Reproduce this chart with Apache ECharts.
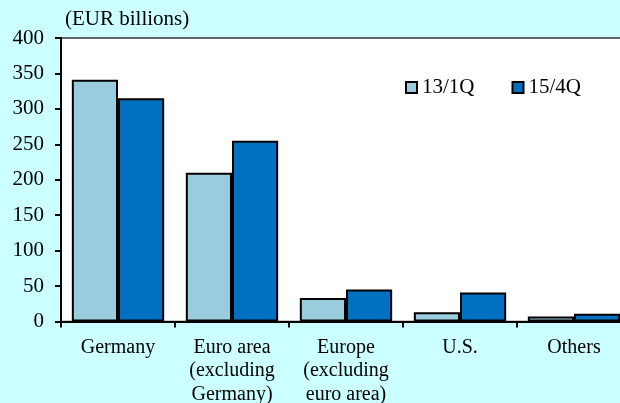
<!DOCTYPE html>
<html>
<head>
<meta charset="utf-8">
<script src="https://cdn.jsdelivr.net/npm/echarts@6/dist/echarts.min.js"></script>
<style>
html,body{margin:0;padding:0;background:#ccffff;}
#c{width:620px;height:403px;}
</style>
</head>
<body>
<div id="c"></div>
<script>
const categories = ['Germany', 'Euro area\n(excluding\nGermany)', 'Europe\n(excluding\neuro area)', 'U.S.', 'Others'];
const series1Name = '13/1Q';
const series2Name = '15/4Q';
const series1Values = [341, 210, 33, 13, 7];
const series2Values = [315, 255, 45, 41, 11];
const yTicks = { min: 0, max: 400, interval: 50 };
const unitLabel = '(EUR billions)';

const font = '"Liberation Serif", serif';
const chart = echarts.init(document.getElementById('c'), null, {renderer: 'canvas'});
chart.setOption({
  backgroundColor: '#ccffff',
  animation: false,
  grid: {
    left: 61, top: 38, width: 570, height: 283.5,
    outerBoundsMode: 'none', containLabel: false,
    show: true, backgroundColor: '#ffffff', borderColor: '#333333', borderWidth: 1.5
  },
  graphic: [{
    type: 'text', left: 65, top: 9,
    style: { text: unitLabel, fontFamily: font, fontSize: 21, fill: '#000' }
  }],
  legend: {
    left: 405, top: 77, padding: 0, itemWidth: 11, itemHeight: 11, itemGap: 37,
    icon: 'rect',
    textStyle: { fontFamily: font, fontSize: 21, color: '#000' },
    data: [series1Name, series2Name]
  },
  xAxis: {
    type: 'category', data: categories,
    axisLine: { lineStyle: { color: '#000', width: 2 } },
    axisTick: { show: true, length: 6, lineStyle: { color: '#000', width: 2 } },
    axisLabel: { fontFamily: font, fontSize: 20, color: '#000', margin: 14, lineHeight: 23.5, interval: 0 }
  },
  yAxis: {
    type: 'value', min: yTicks.min, max: yTicks.max, interval: yTicks.interval,
    axisLine: { show: true, lineStyle: { color: '#000', width: 2 } },
    axisTick: { show: true, length: 6, lineStyle: { color: '#000', width: 2 } },
    splitLine: { show: false },
    axisLabel: { fontFamily: font, fontSize: 21, color: '#000', margin: 17 }
  },
  series: [
    {
      name: series1Name, type: 'bar', data: series1Values,
      barGap: '0%', barCategoryGap: '19%',
      itemStyle: { color: '#99ccdd', borderColor: '#000', borderWidth: 2 }
    },
    {
      name: series2Name, type: 'bar', data: series2Values,
      barGap: '0%', barCategoryGap: '19%',
      itemStyle: { color: '#0070c0', borderColor: '#000', borderWidth: 2 }
    }
  ]
});
</script>
</body>
</html>
